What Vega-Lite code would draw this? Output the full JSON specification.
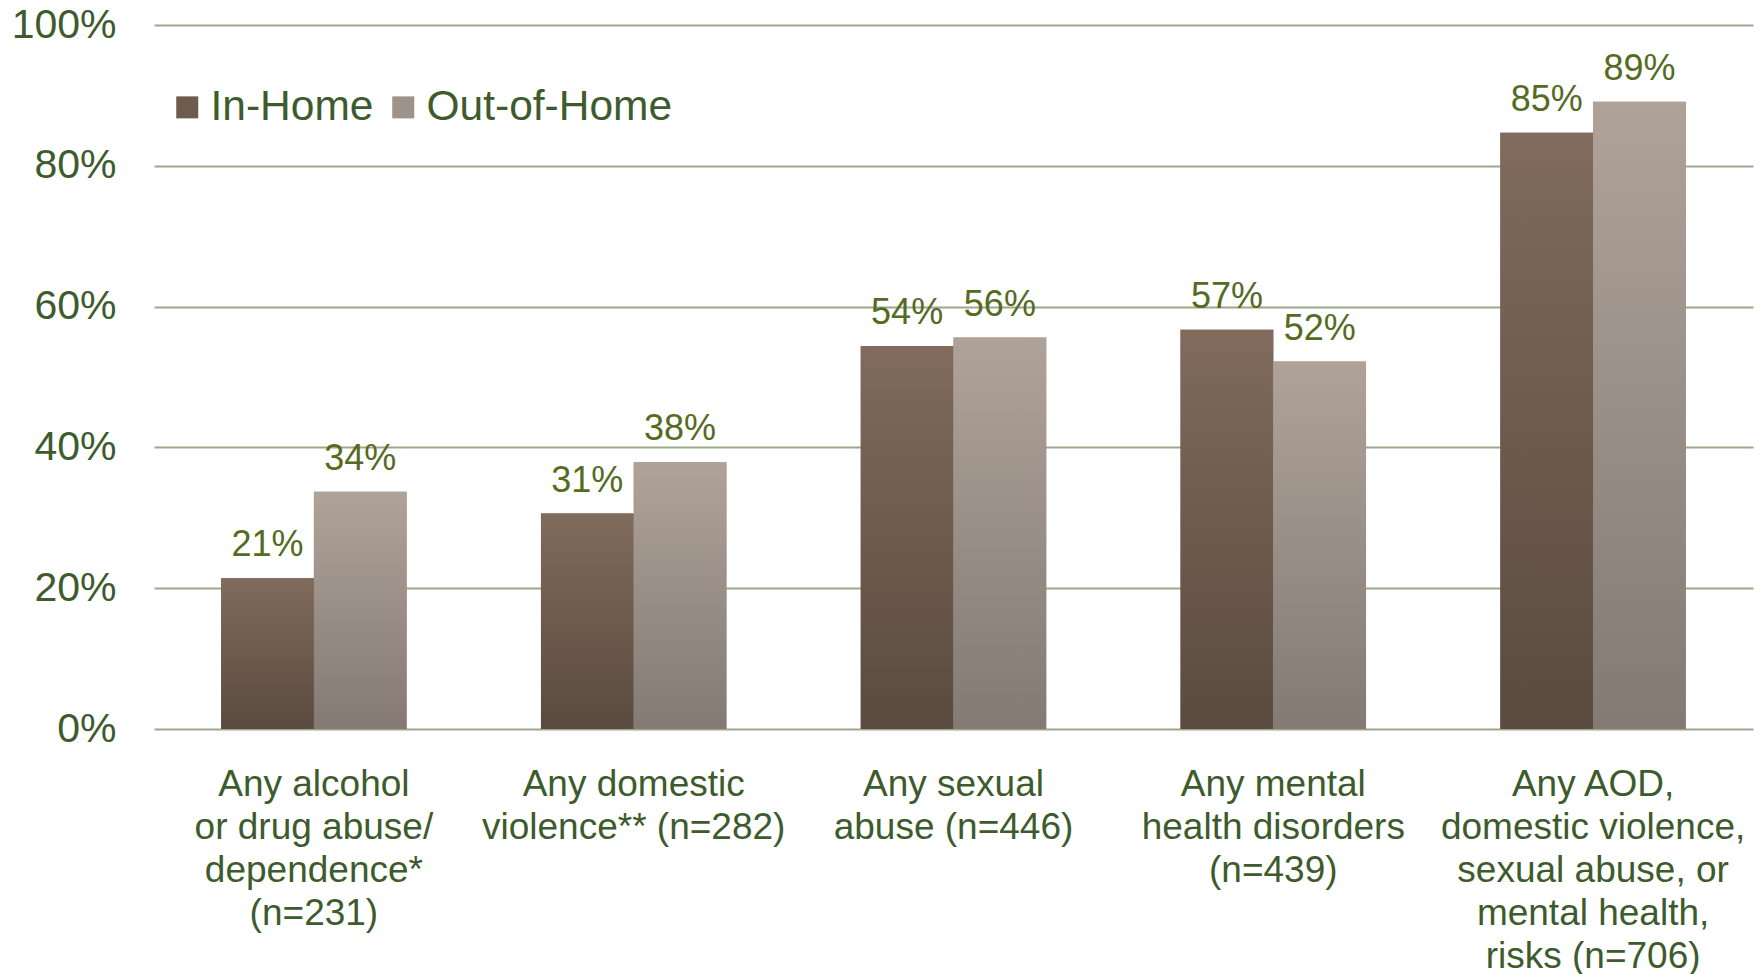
{
  "$schema": "https://vega.github.io/schema/vega-lite/v6.json",
  "autosize": {"type": "none"},
  "padding": {"left": 154, "top": 25, "right": 10, "bottom": 245},
  "width": 1599,
  "height": 704,
  "background": "white",
  "config": {
    "view": {"stroke": null},
    "font": "Liberation Sans"
  },
  "data": {
    "values": [
      {"category": "Any alcohol\nor drug abuse/\ndependence*\n(n=231)", "series": "In-Home", "value": 0.214},
      {"category": "Any alcohol\nor drug abuse/\ndependence*\n(n=231)", "series": "Out-of-Home", "value": 0.337},
      {"category": "Any domestic\nviolence** (n=282)", "series": "In-Home", "value": 0.306},
      {"category": "Any domestic\nviolence** (n=282)", "series": "Out-of-Home", "value": 0.379},
      {"category": "Any sexual\nabuse (n=446)", "series": "In-Home", "value": 0.544},
      {"category": "Any sexual\nabuse (n=446)", "series": "Out-of-Home", "value": 0.556},
      {"category": "Any mental\nhealth disorders\n(n=439)", "series": "In-Home", "value": 0.567},
      {"category": "Any mental\nhealth disorders\n(n=439)", "series": "Out-of-Home", "value": 0.522},
      {"category": "Any AOD,\ndomestic violence,\nsexual abuse, or\nmental health,\nrisks (n=706)", "series": "In-Home", "value": 0.847},
      {"category": "Any AOD,\ndomestic violence,\nsexual abuse, or\nmental health,\nrisks (n=706)", "series": "Out-of-Home", "value": 0.891}
    ]
  },
  "encoding": {
    "x": {
      "field": "category", "type": "nominal", "sort": null,
      "scale": {"paddingInner": 0.42, "paddingOuter": 0.21},
      "axis": {
        "title": null, "labelAngle": 0, "domain": false, "ticks": false,
        "labelExpr": "split(datum.value, '\\n')",
        "labelFont": "Liberation Sans", "labelFontSize": 37, "labelColor": "#3d5b2c",
        "labelLineHeight": 43, "labelPadding": 37, "labelBaseline": "top",
        "labelLimit": 0
      }
    },
    "xOffset": {"field": "series", "type": "nominal", "scale": {"paddingInner": 0, "paddingOuter": 0, "domain": ["In-Home", "Out-of-Home"]}},
    "y": {
      "field": "value", "type": "quantitative",
      "scale": {"domain": [0, 1], "nice": false},
      "axis": {
        "title": null, "format": ".0%", "values": [0, 0.2, 0.4, 0.6, 0.8, 1],
        "domain": false, "ticks": false,
        "grid": true, "gridColor": "#9ea78d", "gridWidth": 2,
        "labelFont": "Liberation Sans", "labelFontSize": 41, "labelColor": "#3d5b2c",
        "labelPadding": 38
      }
    }
  },
  "layer": [
    {
      "mark": {"type": "bar"},
      "encoding": {
        "color": {
          "field": "series", "type": "nominal",
          "scale": {
            "domain": ["In-Home", "Out-of-Home"],
            "range": ["#6e5b4e", "#9e9289"]
          },
          "legend": {
            "title": null, "orient": "none", "direction": "horizontal",
            "legendX": 12, "legendY": 61,
            "symbolType": "square", "symbolSize": 484, "symbolStrokeWidth": 0,
            "labelFont": "Liberation Sans", "labelFontSize": 42.5, "labelColor": "#3d5b2c",
            "labelOffset": 2, "columnPadding": 8, "labelLimit": 0
          }
        }
      }
    },
    {
      "mark": {"type": "bar"},
      "encoding": {
        "fill": {
          "condition": {
            "test": "datum.series === 'In-Home'",
            "value": {"gradient": "linear", "x1": 0, "y1": 0, "x2": 0, "y2": 1, "stops": [{"offset": 0, "color": "#806b5c"}, {"offset": 1, "color": "#5a4a3f"}]}
          },
          "value": {"gradient": "linear", "x1": 0, "y1": 0, "x2": 0, "y2": 1, "stops": [{"offset": 0, "color": "#afa399"}, {"offset": 1, "color": "#847a73"}]}
        }
      }
    },
    {
      "mark": {"type": "text", "baseline": "middle", "align": "center", "dy": -33, "font": "Liberation Sans", "fontSize": 36, "color": "#556b1f"},
      "encoding": {
        "text": {"field": "value", "type": "quantitative", "format": ".0%"}
      }
    }
  ]
}
